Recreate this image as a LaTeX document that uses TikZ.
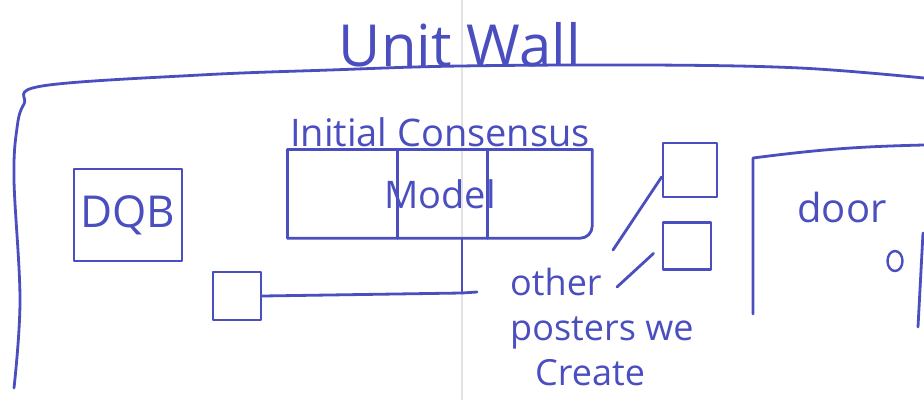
\documentclass[tikz,border=0pt]{standalone}
\usepackage{fontspec}
\setmainfont{Open Sans}
\usetikzlibrary{positioning, calc, shapes.geometric}
\definecolor{ink}{RGB}{74,78,190}

\begin{document}
\begin{tikzpicture}[
    x=1pt, y=-1pt, % work in picture pixels
    % Styles
    pen/.style={ % hand drawn stroke
        draw=ink,
        line width=2.8pt,
        line cap=round,
        line join=round
    },
    scrawl/.style={ % hand written text
        text=ink,
        inner sep=0pt
    },
    poster/.style={ % sheet pinned on the wall
        rectangle,
        pen,
        text=ink,
        minimum width=50pt,
        minimum height=50pt
    },
    link/.style={ % connector line
        pen
    }
]
    \useasboundingbox (0,0) rectangle (924,400);

    % Paper fold
    \draw[gray!22, line width=1.5pt] (462,0) -- (462,400);

    % Title and wall outline
    \node[scrawl, font=\fontsize{58}{58}\selectfont] (title) at (460,45) {Unit Wall};
    \draw[pen] plot[smooth, tension=0.6] coordinates {(14,388) (20,300) (14,180)
        (17,128) (24,104) (42,86) (200,75) (330,70) (460,66) (650,65) (800,68) (924,78)};

    % DQB poster
    \node[poster, minimum width=108pt, minimum height=92pt,
        font=\fontsize{44}{44}\selectfont] (dqb) at (128,215) {DQB};

    % Initial consensus model
    \node[text=ink, minimum width=304pt, minimum height=88pt,
        font=\fontsize{38}{38}\selectfont] (model) at (440,194) {Model};
    \draw[pen] (model.south west) -- (model.north west) -- (model.north east);
    \draw[pen, rounded corners=12pt] (model.north east) -- (model.south east) -- (model.south west);
    \draw[pen] ($(model.north west)!0.36!(model.north east)$) -- ($(model.south west)!0.36!(model.south east)$);
    \draw[pen] ($(model.north west)!0.655!(model.north east)$) -- ($(model.south west)!0.655!(model.south east)$);
    \node[scrawl, font=\fontsize{38}{38}\selectfont, above=3pt of model] (consensus) {Initial Consensus};

    % Small poster hanging off the model
    \node[poster, minimum width=48pt, minimum height=48pt] (note) at (237,296) {};
    \coordinate (tee) at (462,293);
    \coordinate (teeend) at (477,292);
    \draw[link] (model.south -| tee) -- (tee);
    \draw[link] (note.east) -- (tee) -- (teeend);

    % Other posters
    \node[poster, minimum width=54pt, minimum height=54pt] (poster1) at (690,170) {};
    \node[poster, minimum width=48pt, minimum height=47pt] (poster2) at (687,246) {};
    \node[scrawl, align=left, anchor=north west,
        font=\fontsize{36}{45}\selectfont] (others) at (510,268) {other\\posters we\\\hspace{25pt}Create};
    \coordinate (lead1) at (613,250);
    \coordinate (lead2) at (617,287);
    \draw[link] (lead1) -- ([yshift=-7pt]poster1.west);
    \draw[link, shorten >=11pt] (lead2) -- (poster2.west);

    % Door
    \coordinate (doorbase) at (753,314);
    \coordinate (doortop) at (753,158);
    \coordinate (doorright) at (924,145);
    \coordinate (jambtop) at (923,233);
    \coordinate (jambbase) at (918,327);
    \draw[pen] (doorbase) -- (doortop) to[bend left=3] (doorright);
    \draw[pen] (jambtop) -- (jambbase);
    \node[ellipse, draw=ink, line width=2.4pt, minimum width=15pt, minimum height=20pt, inner sep=0pt] (knob) at (895,261) {};
    \node[scrawl, font=\fontsize{40}{40}\selectfont] (door) at (842,207) {door};
\end{tikzpicture}
\end{document}
